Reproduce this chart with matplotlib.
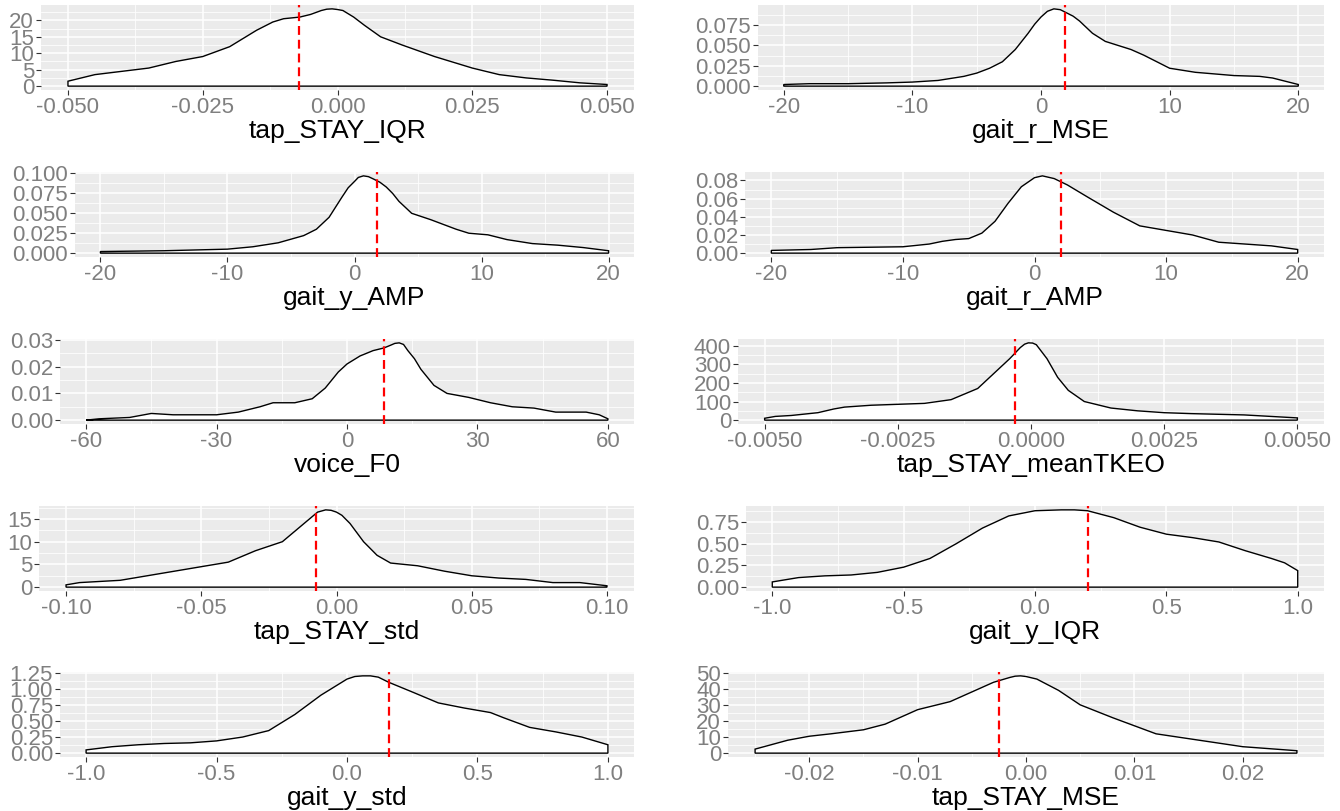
#!/usr/bin/env python3

import numpy as np
import matplotlib.pyplot as plt
from matplotlib.ticker import FixedLocator

plt.rcParams['font.family'] = ['Liberation Sans', 'DejaVu Sans']

W, H = 1340, 811

# ---- data (x, density) ----
names = ["tap_STAY_IQR", "gait_r_MSE",
         "gait_y_AMP", "gait_r_AMP",
         "voice_F0", "tap_STAY_meanTKEO",
         "tap_STAY_std", "gait_y_IQR",
         "gait_y_std", "tap_STAY_MSE"]

tap_iqr_x = [-0.05, -0.045, -0.04, -0.035, -0.03, -0.025, -0.02, -0.015, -0.012, -0.01,
             -0.007, -0.005, -0.003, -0.002, -0.001, 0.0, 0.001, 0.003, 0.005, 0.008,
             0.012, 0.018, 0.025, 0.03, 0.035, 0.04, 0.045, 0.05]
tap_iqr_y = [1.5, 3.5, 4.5, 5.5, 7.5, 9.0, 12.0, 17.0, 19.5, 20.5,
             21.0, 21.8, 23.0, 23.4, 23.5, 23.3, 23.0, 21.0, 18.5, 15.0,
             12.5, 9.0, 5.5, 3.5, 2.5, 1.8, 1.0, 0.5]

gait_r_mse_x = [-20, -18, -15, -12, -10, -8, -6, -5, -4, -3, -2, -1, -0.5, 0, 0.5, 1,
                1.5, 2, 2.5, 3, 4, 5, 7, 8, 10, 12, 15, 17, 18, 20]
gait_r_mse_y = [0.002, 0.003, 0.003, 0.004, 0.005, 0.007, 0.012, 0.016, 0.022, 0.030,
                0.045, 0.065, 0.076, 0.085, 0.092, 0.095, 0.094, 0.090, 0.086, 0.080,
                0.065, 0.055, 0.045, 0.038, 0.022, 0.017, 0.013, 0.012, 0.010, 0.002]

gait_y_amp_x = [-20, -15, -10, -8, -6, -4, -3, -2, -1, -0.5, 0, 0.3, 0.7, 1.1, 1.5, 2,
                2.5, 3, 3.5, 4.5, 6, 8, 9, 10.5, 12, 14, 16, 18, 20]
gait_y_amp_y = [0.002, 0.003, 0.005, 0.008, 0.013, 0.022, 0.030, 0.045, 0.070, 0.082,
                0.090, 0.095, 0.097, 0.096, 0.093, 0.089, 0.083, 0.075, 0.065, 0.050,
                0.042, 0.030, 0.025, 0.023, 0.017, 0.012, 0.010, 0.007, 0.003]

gait_r_amp_x = [-20, -17, -15, -10, -8, -7, -6, -5, -4, -3, -2, -1, 0, 0.6, 1.5, 2.5,
                4, 6, 8, 10, 12, 14, 16, 18, 20]
gait_r_amp_y = [0.003, 0.004, 0.006, 0.007, 0.010, 0.013, 0.015, 0.016, 0.022, 0.035,
                0.055, 0.073, 0.083, 0.085, 0.082, 0.075, 0.062, 0.045, 0.030, 0.025,
                0.020, 0.012, 0.010, 0.008, 0.004]

voice_f0_x = [-60, -57, -50, -45, -40, -30, -25, -20, -17, -12, -8, -5, -2, 0, 3, 6,
              8.5, 10, 11, 12, 13, 14, 15.5, 17, 20, 23, 28, 33, 38, 43, 48, 55, 58, 60]
voice_f0_y = [0.0, 0.0005, 0.001, 0.0025, 0.002, 0.002, 0.003, 0.005, 0.0065, 0.0065,
              0.008, 0.012, 0.018, 0.021, 0.024, 0.026, 0.027, 0.028, 0.0287, 0.0289,
              0.0283, 0.026, 0.023, 0.019, 0.013, 0.010, 0.0085, 0.0065, 0.005, 0.0045,
              0.003, 0.003, 0.002, 0.0005]

tkeo_x = [-0.005, -0.0048, -0.0045, -0.004, -0.0037, -0.0035, -0.003, -0.0025, -0.002,
          -0.0015, -0.001, -0.0007, -0.0004, -0.0002, -0.00012, -0.00005, 0.00003,
          0.0001, 0.0003, 0.0005, 0.0007, 0.001, 0.0015, 0.002, 0.0025, 0.003, 0.004,
          0.0045, 0.005]
tkeo_y = [10, 20, 25, 40, 60, 70, 80, 85, 90, 110, 170, 250, 330, 390, 408, 415, 414,
          405, 330, 230, 160, 100, 65, 50, 40, 35, 28, 20, 12]

tap_std_x = [-0.1, -0.095, -0.08, -0.07, -0.06, -0.05, -0.04, -0.03, -0.02, -0.015, -0.01,
             -0.007, -0.004, -0.002, 0.0, 0.002, 0.005, 0.01, 0.015, 0.02, 0.03, 0.04,
             0.05, 0.06, 0.07, 0.08, 0.09, 0.1]
tap_std_y = [0.5, 1.0, 1.5, 2.5, 3.5, 4.5, 5.5, 8.0, 10.0, 12.5, 15.0, 16.5, 17.0, 16.9,
             16.5, 15.8, 14.0, 10.0, 7.0, 5.3, 4.7, 3.5, 2.5, 2.0, 1.7, 1.0, 1.0, 0.3]

gait_y_iqr_x = [-1.0, -0.9, -0.8, -0.7, -0.6, -0.5, -0.4, -0.3, -0.2, -0.1, 0.0, 0.1,
                0.15, 0.2, 0.3, 0.4, 0.5, 0.6, 0.7, 0.8, 0.9, 0.95, 1.0]
gait_y_iqr_y = [0.06, 0.11, 0.13, 0.14, 0.17, 0.23, 0.33, 0.50, 0.68, 0.82, 0.88, 0.89,
                0.89, 0.88, 0.80, 0.69, 0.61, 0.57, 0.52, 0.42, 0.33, 0.28, 0.19]

gait_y_std_x = [-1.0, -0.9, -0.8, -0.7, -0.6, -0.5, -0.4, -0.3, -0.2, -0.1, 0.0, 0.03,
                0.06, 0.09, 0.12, 0.16, 0.25, 0.35, 0.45, 0.55, 0.6, 0.7, 0.8, 0.9, 1.0]
gait_y_std_y = [0.05, 0.10, 0.13, 0.15, 0.16, 0.19, 0.25, 0.35, 0.60, 0.90, 1.15, 1.19,
                1.20, 1.20, 1.18, 1.10, 0.95, 0.78, 0.70, 0.63, 0.55, 0.40, 0.33, 0.25,
                0.13]

tap_mse_x = [-0.025, -0.022, -0.02, -0.018, -0.015, -0.013, -0.01, -0.007, -0.005, -0.003,
             -0.0015, -0.001, -0.0005, 0.0, 0.001, 0.003, 0.005, 0.008, 0.01, 0.012,
             0.015, 0.018, 0.02, 0.022, 0.025]
tap_mse_y = [2.5, 8.0, 10.5, 12.0, 14.5, 18.0, 27.0, 32.0, 38.0, 44.0, 47.0, 47.8, 48.0,
             47.6, 46.0, 39.0, 30.0, 22.0, 17.0, 12.0, 9.0, 6.0, 4.0, 3.0, 1.5]

xs = [tap_iqr_x, gait_r_mse_x, gait_y_amp_x, gait_r_amp_x, voice_f0_x, tkeo_x,
      tap_std_x, gait_y_iqr_x, gait_y_std_x, tap_mse_x]
ys = [tap_iqr_y, gait_r_mse_y, gait_y_amp_y, gait_r_amp_y, voice_f0_y, tkeo_y,
      tap_std_y, gait_y_iqr_y, gait_y_std_y, tap_mse_y]

# red dashed reference line per panel
vlines = [-0.0071, 1.9, 1.8, 2.0, 8.5, -0.0003, -0.0075, 0.2, 0.16, -0.0025]

xtick_labels = [
    ["-0.050", "-0.025", "0.000", "0.025", "0.050"],
    ["-20", "-10", "0", "10", "20"],
    ["-20", "-10", "0", "10", "20"],
    ["-20", "-10", "0", "10", "20"],
    ["-60", "-30", "0", "30", "60"],
    ["-0.0050", "-0.0025", "0.0000", "0.0025", "0.0050"],
    ["-0.10", "-0.05", "0.00", "0.05", "0.10"],
    ["-1.0", "-0.5", "0.0", "0.5", "1.0"],
    ["-1.0", "-0.5", "0.0", "0.5", "1.0"],
    ["-0.02", "-0.01", "0.00", "0.01", "0.02"],
]
ytick_labels = [
    ["0", "5", "10", "15", "20"],
    ["0.000", "0.025", "0.050", "0.075"],
    ["0.000", "0.025", "0.050", "0.075", "0.100"],
    ["0.00", "0.02", "0.04", "0.06", "0.08"],
    ["0.00", "0.01", "0.02", "0.03"],
    ["0", "100", "200", "300", "400"],
    ["0", "5", "10", "15"],
    ["0.00", "0.25", "0.50", "0.75"],
    ["0.00", "0.25", "0.50", "0.75", "1.00", "1.25"],
    ["0", "10", "20", "30", "40", "50"],
]

# ---- layout in pixels ----
row_tops = [5, 172, 339, 506, 672]
panel_h = 85
lefts = [41, 758, 75, 745, 60, 738, 39, 746, 60, 728]
rights = [634, 1324]

BG = "#EBEBEB"
TICK_TXT = "#7F7F7F"

fig = plt.figure(figsize=(W / 100, H / 100), dpi=100)

for i, name in enumerate(names):
    row, col = divmod(i, 2)
    l = lefts[i]
    r = rights[col]
    t = row_tops[row]
    b = t + panel_h
    ax = fig.add_axes([l / W, 1 - b / H, (r - l) / W, panel_h / H])

    x = np.array(xs[i])
    y = np.array(ys[i])

    # ggplot-style 5% expansion
    xr = x.max() - x.min()
    ax.set_xlim(x.min() - 0.05 * xr, x.max() + 0.05 * xr)
    ax.set_ylim(-0.05 * y.max(), 1.05 * y.max())

    xt = [float(s) for s in xtick_labels[i]]
    yt = [float(s) for s in ytick_labels[i]]
    ax.set_xticks(xt)
    ax.set_xticklabels(xtick_labels[i])
    ax.set_yticks(yt)
    ax.set_yticklabels(ytick_labels[i])

    dx = xt[1] - xt[0]
    dy = yt[1] - yt[0]
    xminor = np.arange(xt[0] - dx / 2, xt[-1] + dx, dx)
    yminor = np.arange(yt[0] - dy / 2, yt[-1] + dy, dy)
    ax.xaxis.set_minor_locator(FixedLocator(xminor))
    ax.yaxis.set_minor_locator(FixedLocator(yminor))

    ax.set_facecolor(BG)
    ax.grid(True, which="major", color="white", linewidth=1.1)
    ax.grid(True, which="minor", color="white", linewidth=0.55)
    ax.set_axisbelow(True)
    for s in ax.spines.values():
        s.set_visible(False)

    ax.tick_params(which="major", length=3.5, width=0.8, color="#333333",
                   labelsize=16, labelcolor=TICK_TXT, pad=1.5)
    ax.tick_params(which="minor", length=0)

    # density polygon: white fill, black outline incl. baseline
    px = np.concatenate([[x[0]], x, [x[-1]], [x[0]]])
    py = np.concatenate([[0], y, [0], [0]])
    ax.fill(px, py, facecolor="white", edgecolor="black", linewidth=1.0, zorder=2)

    ax.axvline(vlines[i], color="red", linestyle=(0, (4, 2.2)), linewidth=1.6, zorder=3)

    ax.set_xlabel(name, fontsize=19, color="black", labelpad=1)

fig.savefig("out.png", dpi=100)
